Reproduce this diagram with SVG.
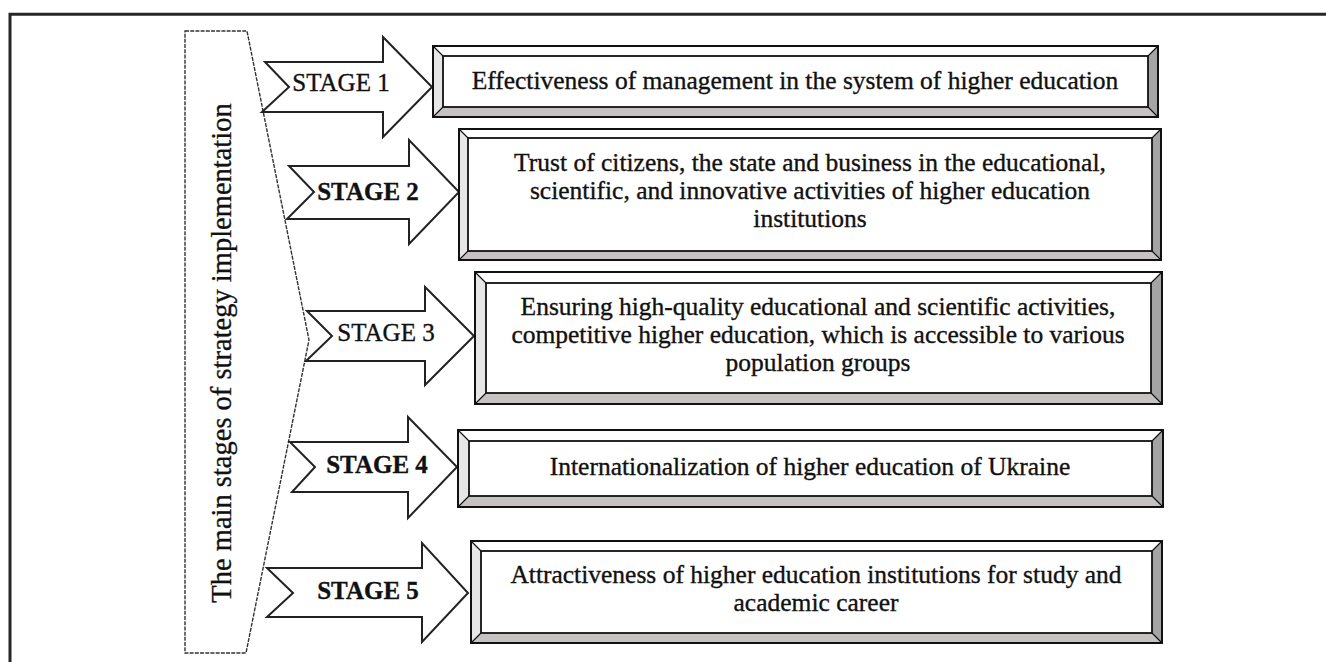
<svg xmlns="http://www.w3.org/2000/svg" width="1326" height="662" viewBox="0 0 1326 662">
<style>
  .frame { stroke: #262626; stroke-width: 3; fill: none; }
  .banner { fill: #fff; stroke: #333; stroke-width: 1.4; stroke-dasharray: 4 1.2; }
  .arrow { fill: #fff; stroke: #222; stroke-width: 2; stroke-linejoin: miter; }
  .bt { fill: #fff; }
  .bl { fill: #e6e6e6; }
  .br { fill: #a4a4a4; }
  .bb { fill: #c6c2c2; }
  .outer { fill: none; stroke: #111; stroke-width: 2; }
  .inner { fill: #fff; stroke: #111; stroke-width: 1.8; }
  .diag { stroke: #111; stroke-width: 1.2; }
  .txt { font-family: "Liberation Serif", "Times New Roman", serif; font-size: 25.5px; fill: #111; stroke: #111; stroke-width: 0.35; text-anchor: middle; }
  .stage { font-family: "Liberation Serif", "Times New Roman", serif; font-size: 25px; fill: #111; stroke: #111; stroke-width: 0.35; text-anchor: middle; }
  .vert { font-family: "Liberation Serif", "Times New Roman", serif; font-size: 28.5px; fill: #111; stroke: #111; stroke-width: 0.3; text-anchor: middle; }
</style>
<rect width="1326" height="662" fill="#fff"/>
<path class="frame" d="M10,662 V14.3 H1326"/>

<g id="banner">
  <polygon class="banner" points="185,31 247,31 309,340 246,653 185,653"/>
  <text class="vert" transform="translate(231,353) rotate(-90)">The main stages of strategy implementation</text>
</g>

<g id="connectors">
  <g id="arrow1">
    <polygon class="arrow" points="265,62 383,62 383,37 432,87 383,137 383,112 262,112 289,87"/>
    <text class="stage" x="341" y="91">STAGE 1</text>
  </g>
  <g id="arrow2">
    <polygon class="arrow" points="289,166 409,166 409,140 459,192 409,244 409,219 287,219 314,192"/>
    <text class="stage" x="368" y="200" font-weight="bold">STAGE 2</text>
  </g>
  <g id="arrow3">
    <polygon class="arrow" points="307,311 425,311 425,287 474,336 425,385 425,361 306,361 332,336"/>
    <text class="stage" x="386" y="341">STAGE 3</text>
  </g>
  <g id="arrow4">
    <polygon class="arrow" points="290,442 408,442 408,417 457,467 408,518 408,492 292,492 315,467"/>
    <text class="stage" x="377" y="473" font-weight="bold">STAGE 4</text>
  </g>
  <g id="arrow5">
    <polygon class="arrow" points="267,568 422,568 422,543 468,593 422,642 422,617 267,617 293,593"/>
    <text class="stage" x="368" y="599" font-weight="bold">STAGE 5</text>
  </g>
</g>

<g id="box1">
  <polygon class="bt" points="433,46 1158,46 1148,56 443,56"/>
  <polygon class="bl" points="433,46 443,56 443,107 433,117"/>
  <polygon class="br" points="1158,46 1158,117 1148,107 1148,56"/>
  <polygon class="bb" points="433,117 443,107 1148,107 1158,117"/>
  <rect class="inner" x="443" y="56" width="705" height="51"/>
  <path class="diag" d="M433,46 L443,56 M1158,46 L1148,56 M433,117 L443,107 M1158,117 L1148,107"/>
  <rect class="outer" x="433" y="46" width="725" height="71"/>
  <text class="txt" x="795" y="89">Effectiveness of management in the system of higher education</text>
</g>

<g id="box2">
  <polygon class="bt" points="459,129 1161,129 1152,138 468,138"/>
  <polygon class="bl" points="459,129 468,138 468,251 459,260"/>
  <polygon class="br" points="1161,129 1161,260 1152,251 1152,138"/>
  <polygon class="bb" points="459,260 468,251 1152,251 1161,260"/>
  <rect class="inner" x="468" y="138" width="684" height="113"/>
  <path class="diag" d="M459,129 L468,138 M1161,129 L1152,138 M459,260 L468,251 M1161,260 L1152,251"/>
  <rect class="outer" x="459" y="129" width="702" height="131"/>
  <text class="txt" x="810" y="171">Trust of citizens, the state and business in the educational,</text>
  <text class="txt" x="810" y="199">scientific, and innovative activities of higher education</text>
  <text class="txt" x="810" y="227">institutions</text>
</g>

<g id="box3">
  <polygon class="bt" points="475,272 1162,272 1151,283 486,283"/>
  <polygon class="bl" points="475,272 486,283 486,393 475,404"/>
  <polygon class="br" points="1162,272 1162,404 1151,393 1151,283"/>
  <polygon class="bb" points="475,404 486,393 1151,393 1162,404"/>
  <rect class="inner" x="486" y="283" width="665" height="110"/>
  <path class="diag" d="M475,272 L486,283 M1162,272 L1151,283 M475,404 L486,393 M1162,404 L1151,393"/>
  <rect class="outer" x="475" y="272" width="687" height="132"/>
  <text class="txt" x="818" y="315">Ensuring high-quality educational and scientific activities,</text>
  <text class="txt" x="818" y="343">competitive higher education, which is accessible to various</text>
  <text class="txt" x="818" y="371">population groups</text>
</g>

<g id="box4">
  <polygon class="bt" points="458,430 1163,430 1152,441 469,441"/>
  <polygon class="bl" points="458,430 469,441 469,496 458,507"/>
  <polygon class="br" points="1163,430 1163,507 1152,496 1152,441"/>
  <polygon class="bb" points="458,507 469,496 1152,496 1163,507"/>
  <rect class="inner" x="469" y="441" width="683" height="55"/>
  <path class="diag" d="M458,430 L469,441 M1163,430 L1152,441 M458,507 L469,496 M1163,507 L1152,496"/>
  <rect class="outer" x="458" y="430" width="705" height="77"/>
  <text class="txt" x="810" y="475">Internationalization of higher education of Ukraine</text>
</g>

<g id="box5">
  <polygon class="bt" points="471,541 1162,541 1152,551 481,551"/>
  <polygon class="bl" points="471,541 481,551 481,633 471,643"/>
  <polygon class="br" points="1162,541 1162,643 1152,633 1152,551"/>
  <polygon class="bb" points="471,643 481,633 1152,633 1162,643"/>
  <rect class="inner" x="481" y="551" width="671" height="82"/>
  <path class="diag" d="M471,541 L481,551 M1162,541 L1152,551 M471,643 L481,633 M1162,643 L1152,633"/>
  <rect class="outer" x="471" y="541" width="691" height="102"/>
  <text class="txt" x="816" y="583">Attractiveness of higher education institutions for study and</text>
  <text class="txt" x="816" y="611">academic career</text>
</g>
</svg>
